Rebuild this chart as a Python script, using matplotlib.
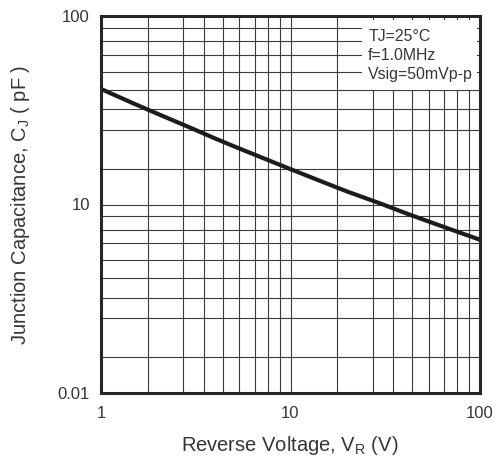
import matplotlib as mpl
mpl.use('Agg')
import matplotlib.pyplot as plt
import numpy as np
from matplotlib.ticker import FixedLocator, NullFormatter
from matplotlib.patches import Rectangle

plt.rc('font', family=['Liberation Sans', 'DejaVu Sans'])
plt.rc('mathtext', default='regular')

# curve
voltage = [1, 1.5, 2, 3, 4, 5, 7, 10, 15, 20, 30, 40, 50, 70, 100]
cap_pf = [41, 34.2, 30.2, 25.4, 22.4, 20.4, 17.8, 15.4, 13.1, 11.7, 10.1, 9.04, 8.33, 7.38, 6.5]

x_ticks = [1, 10, 100]
x_ticklabels = ['1', '10', '100']
y_ticks = [1, 10, 100]
y_ticklabels = ['0.01', '10', '100']   # as printed on the sheet

conditions = ['TJ=25°C', 'f=1.0MHz', 'Vsig=50mVp-p']

# minor grid in the sheet is not true log spacing: position inside each decade
x_grid_frac = [0.247, 0.434, 0.542, 0.642, 0.730, 0.811, 0.880, 0.943]
y_grid_frac = [0.190, 0.397, 0.505, 0.609, 0.704, 0.794, 0.866, 0.938]

text_c = '#353535'
line_c = '#1c1c1c'

fig = plt.figure(figsize=(4.99, 4.58), dpi=100)
ax = fig.add_axes([101 / 499, 1 - 393 / 458, 379 / 499, 377 / 458])

ax.set_xscale('log')
ax.set_yscale('log')
ax.set_xlim(1, 100)
ax.set_ylim(1, 100)

x_minor = [10 ** (d + f) for d in (0, 1) for f in x_grid_frac]
y_minor = [10 ** (d + f) for d in (0, 1) for f in y_grid_frac]
ax.xaxis.set_minor_locator(FixedLocator(x_minor))
ax.yaxis.set_minor_locator(FixedLocator(y_minor))
ax.xaxis.set_minor_formatter(NullFormatter())
ax.yaxis.set_minor_formatter(NullFormatter())
ax.set_xticks(x_ticks, x_ticklabels)
ax.set_yticks(y_ticks, y_ticklabels)
ax.tick_params(which='both', length=0, labelsize=12, colors=text_c)
ax.tick_params(axis='x', pad=9)
ax.tick_params(axis='y', pad=8)

ax.grid(which='both', color='#3a3a3a', lw=0.8)
ax.set_axisbelow(True)

for s in ax.spines.values():
    s.set_linewidth(2.2)
    s.set_color('#262626')
    s.set_zorder(5)

ax.plot(voltage, cap_pf, color=line_c, lw=3.0, solid_capstyle='butt', zorder=3)

# white panel behind the test conditions
ax.add_patch(Rectangle((0.689, 0.804), 0.303, 0.185, transform=ax.transAxes,
                       facecolor='white', edgecolor='none', zorder=2))
for i, t in enumerate(conditions):
    ax.text(0.705, 0.935 - i * 0.051, t, transform=ax.transAxes, fontsize=11.4,
            color=text_c, va='baseline', ha='left', zorder=4)

fig.text(290 / 499, 1 - 451 / 458, r'Reverse Voltage, V$_{R}$ (V)', fontsize=14.5,
         color=text_c, ha='center', va='baseline')
fig.text(21 / 499, 1 - 205 / 458, r'Junction Capacitance, C$_{J}$ ( pF )', fontsize=14.5,
         color=text_c, ha='center', va='center', rotation=90)

fig.savefig('out.png', dpi=100)
